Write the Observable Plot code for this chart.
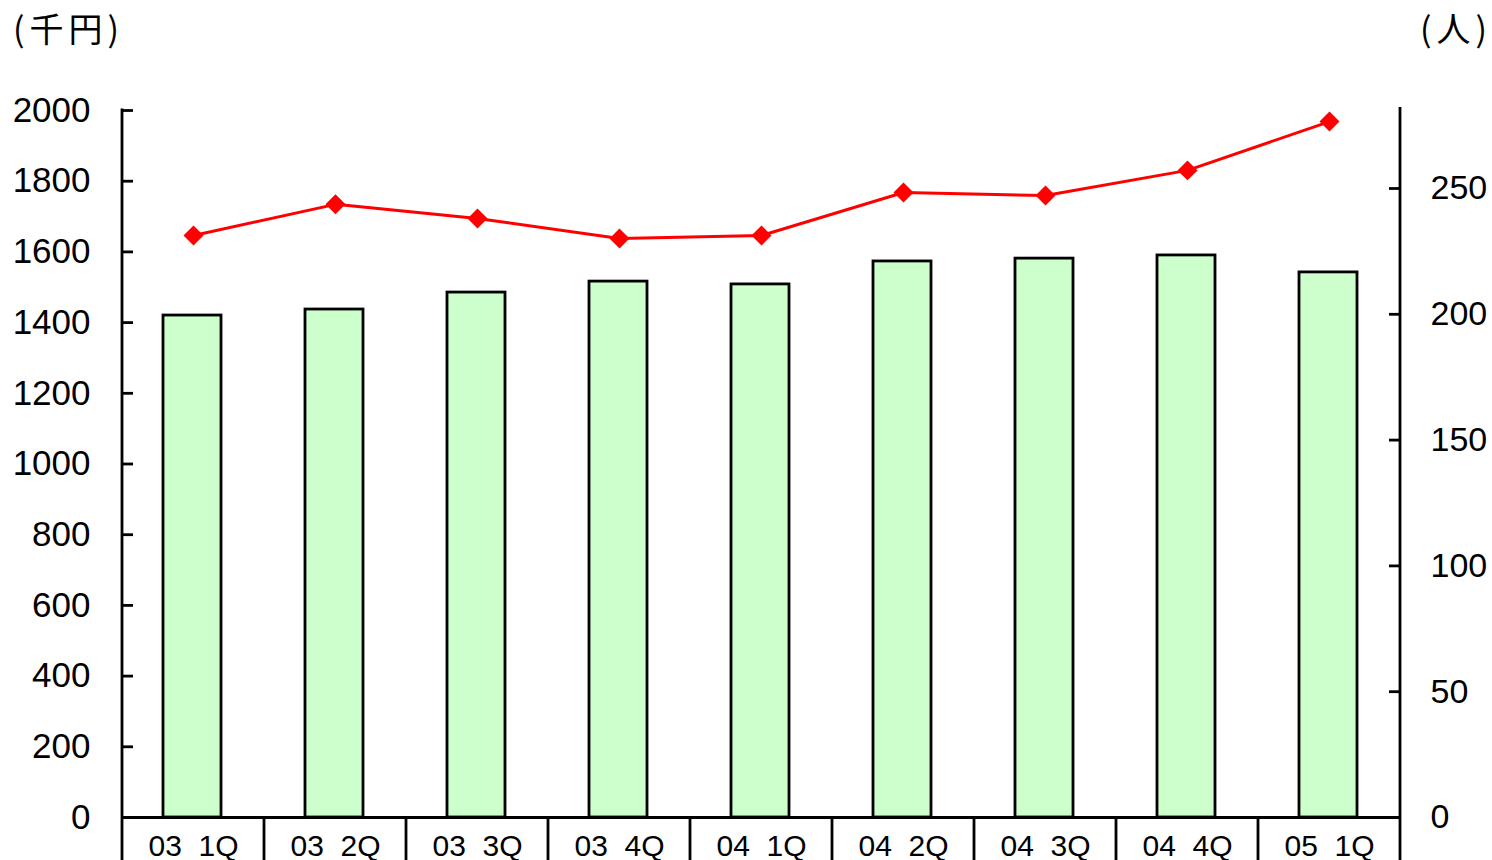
<!DOCTYPE html>
<html><head><meta charset="utf-8">
<script src="https://cdn.jsdelivr.net/npm/d3@7"></script>
<script src="https://cdn.jsdelivr.net/npm/@observablehq/plot@0.6"></script>
<style>
body{margin:0;background:#fff;width:1492px;height:860px;overflow:hidden;}
#hdr{position:relative;height:60px;font-family:"Noto Sans CJK JP",sans-serif;font-size:34px;color:#000;}
.u{position:absolute;top:11px;line-height:34px;letter-spacing:5px;white-space:nowrap;}
#ul{left:13px;}
#ur{right:0px;}
</style></head><body>
<div id="hdr"><span class="u" id="ul">(千円)</span><span class="u" id="ur">(人)</span></div>
<div id="chart"></div>
<script>
const quarters = ["03  1Q","03  2Q","03  3Q","03  4Q","04  1Q","04  2Q","04  3Q","04  4Q","05  1Q"];
const sales = [1420,1437,1485,1516,1508,1573,1581,1590,1542];
const people = [231.3,243.7,238.1,230.1,231.3,248.4,247.2,257.2,276.6];
const leftTicks = [0,200,400,600,800,1000,1200,1400,1600,1800,2000];
const rightTicks = [0,50,100,150,200,250];
const leftMax = 2000, rightMax = 281;
const k = leftMax / rightMax;
const data = quarters.map((q, i) => ({q, sales: sales[i], people: people[i]}));

const H = 800, MT = 50, MB = 43;
const chart = Plot.plot({
  width: 1492, height: H, marginTop: MT, marginBottom: MB, marginLeft: 121, marginRight: 92,
  style: {fontFamily: "'Liberation Sans', Arial, sans-serif", fontSize: "34px", color: "#000", background: "#fff"},
  x: {domain: quarters, padding: 0, axis: null},
  y: {domain: [0, leftMax], axis: null},
  marks: [
    Plot.barY(data, {x: "q", y: "sales", fill: "#ccffcc", stroke: "#000", strokeWidth: 2.8, insetLeft: 41, insetRight: 43}),
    Plot.ruleY([0], {stroke: "#000", strokeWidth: 2.8}),
    Plot.axisY(leftTicks, {anchor: "left", label: null, tickSize: -12, tickPadding: 43, strokeWidth: 2.8, fontSize: 35, tickFormat: d => String(d)}),
    Plot.axisY(rightTicks.map(t => t * k), {anchor: "right", label: null, tickSize: -12, tickPadding: 42, strokeWidth: 2.8, fontSize: 34, tickFormat: d => String(Math.round(d / k))}),
    Plot.line(data, {x: "q", y: d => d.people * k, stroke: "#ff0000", strokeWidth: 3}),
    Plot.dot(data, {x: "q", y: d => d.people * k, symbol: "diamond2", r: 9, fill: "#ff0000", stroke: "none"}),
    Plot.axisX({label: null, tickSize: 0, tickPadding: 17, fontSize: 30, tickFormat: d => d.replace(/ /g, "\u00a0")})
  ]
});
document.getElementById("chart").appendChild(chart);

// axis lines and category separators, placed through Plot's scales
const xs = chart.scale("x"), ys = chart.scale("y");
const x0 = xs.apply(quarters[0]);
const x1 = xs.apply(quarters[quarters.length - 1]) + xs.bandwidth;
const yTop = ys.apply(leftMax), yBase = ys.apply(0);
const g = d3.select(chart).append("g").attr("stroke", "#000").attr("stroke-width", 2.8);
g.append("line").attr("x1", x0).attr("x2", x0).attr("y1", yTop - 1.4).attr("y2", yBase);
g.append("line").attr("x1", x1).attr("x2", x1).attr("y1", yTop - 3).attr("y2", yBase);
const bounds = quarters.map(q => xs.apply(q)).concat([x1]);
g.selectAll("line.sep").data(bounds).join("line").attr("class", "sep")
  .attr("x1", d => d).attr("x2", d => d)
  .attr("y1", yBase).attr("y2", H);
</script>
</body></html>
